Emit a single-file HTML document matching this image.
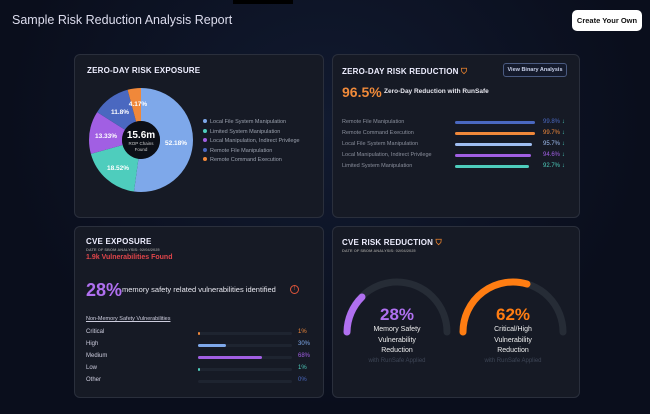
<!DOCTYPE html>
<html><head><meta charset="utf-8"><style>
*{margin:0;padding:0;box-sizing:border-box}
body{width:650px;height:414px;background:#0a0e1c;font-family:"Liberation Sans",sans-serif;position:relative;overflow:hidden;color:#fff}
.a{position:absolute;white-space:nowrap}
.card{position:absolute;background:#161a25;border:1px solid #2a2f3c;border-radius:6px;z-index:0}
.t{font-weight:bold;font-size:8px;letter-spacing:.2px;color:#eef}
.g{color:#8a8f9c;font-size:5.5px}
.bar{position:absolute;height:3px;border-radius:2px}
</style></head><body>
<div class="a" style="left:0;top:0;width:650px;height:414px;background:radial-gradient(ellipse at 50% 30%,#111a30 0%,#0a0e1c 70%)"></div>
<div class="a" style="left:233px;top:0;width:60px;height:4px;background:#000"></div>
<div class="a" style="left:12px;top:13px;font-size:12.5px;color:#dde">Sample Risk Reduction Analysis Report</div>
<div class="a" style="left:572px;top:10px;width:70px;height:21px;background:#fff;border-radius:5px;color:#111;font-size:7.5px;text-align:center;line-height:21px;font-weight:bold">Create Your Own</div>

<div class="card" style="left:74px;top:54px;width:250px;height:164px"></div>
<div class="card" style="left:332px;top:54px;width:248px;height:164px"></div>
<div class="card" style="left:74px;top:226px;width:250px;height:172px"></div>
<div class="card" style="left:332px;top:226px;width:248px;height:172px"></div>

<div class="a t" style="left:87px;top:66px">ZERO-DAY RISK EXPOSURE</div>
<svg class="a" style="left:0;top:0;z-index:1" width="650" height="414">
<g transform="rotate(-90 141 140)" fill="none" stroke-width="33">
<circle cx="141" cy="140" r="35.5" pathLength="100" stroke="#7ea8ea" stroke-dasharray="52.18 100"/>
<circle cx="141" cy="140" r="35.5" pathLength="100" stroke="#4ecdbd" stroke-dasharray="0 52.18 18.52 100"/>
<circle cx="141" cy="140" r="35.5" pathLength="100" stroke="#a15fe3" stroke-dasharray="0 70.7 13.33 100"/>
<circle cx="141" cy="140" r="35.5" pathLength="100" stroke="#4a68c0" stroke-dasharray="0 84.03 11.8 100"/>
<circle cx="141" cy="140" r="35.5" pathLength="100" stroke="#f0883a" stroke-dasharray="0 95.83 4.17 100"/>
</g>
<circle cx="141" cy="140" r="19" fill="#0c0f17"/>
<g font-size="6.5" font-weight="bold" fill="#fff" text-anchor="middle">
<text x="176" y="145">52.18%</text><text x="118" y="170">18.52%</text><text x="106" y="138">13.33%</text><text x="120" y="114">11.8%</text><text x="138" y="106">4.17%</text>
</g>
<text x="141" y="138" font-size="10" font-weight="bold" fill="#fff" text-anchor="middle">15.6m</text>
<text x="141" y="145" font-size="4.5" fill="#ccc" text-anchor="middle">ROP Chains</text>
<text x="141" y="151" font-size="4.5" fill="#ccc" text-anchor="middle">Found</text>
<g font-size="5.5" fill="#9aa0ad">
<circle cx="205" cy="121" r="2" fill="#7ea8ea"/><text x="210" y="123">Local File System Manipulation</text>
<circle cx="205" cy="131" r="2" fill="#4ecdbd"/><text x="210" y="133">Limited System Manipulation</text>
<circle cx="205" cy="140" r="2" fill="#a15fe3"/><text x="210" y="142">Local Manipulation, Indirect Privilege</text>
<circle cx="205" cy="150" r="2" fill="#4a68c0"/><text x="210" y="152">Remote File Manipulation</text>
<circle cx="205" cy="159" r="2" fill="#f0883a"/><text x="210" y="161">Remote Command Execution</text>
</g>
<g fill="none" stroke-width="7" stroke-linecap="round">
<path d="M347 332 A50 50 0 0 1 447 332" stroke="#262c36"/>
<path d="M347 332 A50 50 0 0 1 362 297" stroke="#b070f0"/>
<path d="M463 332 A50 50 0 0 1 563 332" stroke="#262c36"/>
<path d="M463 332 A50 50 0 0 1 527 284" stroke="#ff7d12"/>
</g>
</svg>

<div class="a t" style="left:342px;top:67px">ZERO-DAY RISK REDUCTION <span style="color:#e8822e">⛉</span></div>
<div class="a" style="left:503px;top:63px;width:64px;height:14px;border:1px solid #4a5a80;border-radius:3px;background:#141a2c;font-size:5.5px;font-weight:bold;color:#c8d0e8;text-align:center;line-height:12px">View Binary Analysis</div>
<div class="a" style="left:342px;top:84px;font-size:14px;font-weight:bold;color:#f08a3a">96.5%</div>
<div class="a" style="left:384px;top:88px;font-size:6.5px;font-weight:bold;color:#e8e8f0">Zero-Day Reduction with RunSafe</div>
<div class="a g" style="left:342px;top:119px">Remote File Manipulation</div>
<div class="a g" style="left:342px;top:130px">Remote Command Execution</div>
<div class="a g" style="left:342px;top:141px">Local File System Manipulation</div>
<div class="a g" style="left:342px;top:152px">Local Manipulation, Indirect Privilege</div>
<div class="a g" style="left:342px;top:163px">Limited System Manipulation</div>
<div class="bar" style="left:455px;top:121px;width:80px;background:#4a68c0"></div>
<div class="bar" style="left:455px;top:132px;width:80px;background:#f0883a"></div>
<div class="bar" style="left:455px;top:143px;width:77px;background:#9fbdf0"></div>
<div class="bar" style="left:455px;top:154px;width:76px;background:#a15fe3"></div>
<div class="bar" style="left:455px;top:165px;width:74px;background:#4ecdbd"></div>
<div class="a" style="left:543px;top:119px;font-size:6px;color:#4a68c0">99.8% <span style="color:#4ecdbd">↓</span></div>
<div class="a" style="left:543px;top:130px;font-size:6px;color:#f0883a">99.7% <span style="color:#4ecdbd">↓</span></div>
<div class="a" style="left:543px;top:141px;font-size:6px;color:#9fbdf0">95.7% <span style="color:#4ecdbd">↓</span></div>
<div class="a" style="left:543px;top:152px;font-size:6px;color:#a15fe3">94.6% <span style="color:#4ecdbd">↓</span></div>
<div class="a" style="left:543px;top:163px;font-size:6px;color:#4ecdbd">92.7% <span style="color:#4ecdbd">↓</span></div>

<div class="a t" style="left:86px;top:237px">CVE EXPOSURE</div>
<div class="a" style="left:86px;top:247px;font-size:4px;color:#888;font-weight:bold">DATE OF SBOM ANALYSIS: 02/04/2025</div>
<div class="a" style="left:86px;top:254px;font-size:7px;font-weight:bold;color:#e0454a">1.9k Vulnerabilities Found</div>
<div class="a" style="left:86px;top:280px;font-size:18px;font-weight:bold;color:#b070f0">28%</div>
<div class="a" style="left:122px;top:285px;font-size:7.5px;color:#e8e8f0">memory safety related vulnerabilities identified</div>
<div class="a" style="left:290px;top:285px;width:9px;height:9px;border:1px solid #e0553a;border-radius:50%;font-size:6px;color:#e0553a;text-align:center;line-height:7px">!</div>
<div class="a" style="left:86px;top:316px;font-size:5.5px;color:#ccd;text-decoration:underline">Non-Memory Safety Vulnerabilities</div>
<div class="a" style="left:86px;top:329px;font-size:6px;color:#ccd">Critical</div>
<div class="a" style="left:86px;top:341px;font-size:6px;color:#ccd">High</div>
<div class="a" style="left:86px;top:353px;font-size:6px;color:#ccd">Medium</div>
<div class="a" style="left:86px;top:365px;font-size:6px;color:#ccd">Low</div>
<div class="a" style="left:86px;top:377px;font-size:6px;color:#ccd">Other</div>
<div class="bar" style="left:198px;top:332px;width:94px;background:#1e2430"></div>
<div class="bar" style="left:198px;top:344px;width:94px;background:#1e2430"></div>
<div class="bar" style="left:198px;top:356px;width:94px;background:#1e2430"></div>
<div class="bar" style="left:198px;top:368px;width:94px;background:#1e2430"></div>
<div class="bar" style="left:198px;top:380px;width:94px;background:#1e2430"></div>
<div class="bar" style="left:198px;top:332px;width:2px;background:#f0883a"></div>
<div class="bar" style="left:198px;top:344px;width:28px;background:#7ea8ea"></div>
<div class="bar" style="left:198px;top:356px;width:64px;background:#a15fe3"></div>
<div class="bar" style="left:198px;top:368px;width:2px;background:#4ecdbd"></div>
<div class="a" style="left:298px;top:329px;font-size:6px;color:#f0883a">1%</div>
<div class="a" style="left:298px;top:341px;font-size:6px;color:#7ea8ea">30%</div>
<div class="a" style="left:298px;top:353px;font-size:6px;color:#a15fe3">68%</div>
<div class="a" style="left:298px;top:365px;font-size:6px;color:#4ecdbd">1%</div>
<div class="a" style="left:298px;top:377px;font-size:6px;color:#4a68c0">0%</div>

<div class="a t" style="left:342px;top:238px">CVE RISK REDUCTION <span style="color:#e8822e">⛉</span></div>
<div class="a" style="left:342px;top:248px;font-size:4px;color:#888;font-weight:bold">DATE OF SBOM ANALYSIS: 02/04/2025</div>
<div class="a" style="left:347px;top:305px;width:100px;text-align:center;font-size:17px;font-weight:bold;color:#b070f0">28%</div>
<div class="a" style="left:347px;top:325px;width:100px;text-align:center;font-size:7px;line-height:10.5px;color:#eee;white-space:normal">Memory Safety<br>Vulnerability<br>Reduction</div>
<div class="a" style="left:347px;top:358px;width:100px;text-align:center;font-size:6px;color:#3e4656">with RunSafe Applied</div>
<div class="a" style="left:463px;top:305px;width:100px;text-align:center;font-size:17px;font-weight:bold;color:#ff7d12">62%</div>
<div class="a" style="left:463px;top:325px;width:100px;text-align:center;font-size:7px;line-height:10.5px;color:#eee;white-space:normal">Critical/High<br>Vulnerability<br>Reduction</div>
<div class="a" style="left:463px;top:358px;width:100px;text-align:center;font-size:6px;color:#3e4656">with RunSafe Applied</div>
</body></html>
